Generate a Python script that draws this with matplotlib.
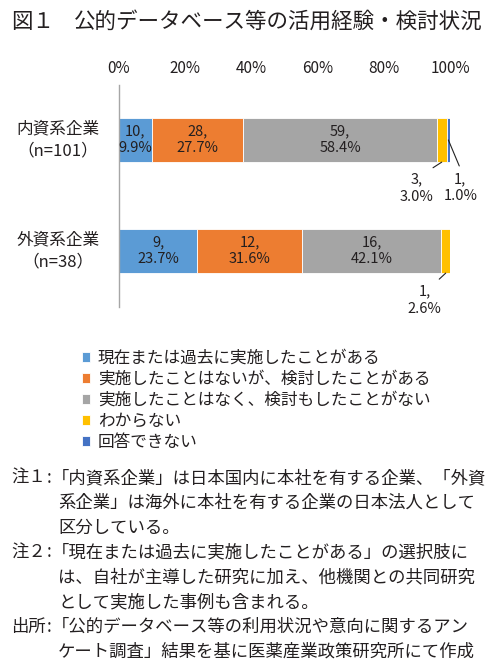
import matplotlib
matplotlib.use("Agg")
import matplotlib.pyplot as plt
import matplotlib.transforms as mtransforms
import numpy as np

plt.rcParams['font.family'] = ['Noto Sans CJK JP', 'DejaVu Sans']

# ---- data ----
categories = ["内資系企業\n（n=101）", "外資系企業\n（n=38）"]
series_names = ["現在または過去に実施したことがある",
                "実施したことはないが、検討したことがある",
                "実施したことはなく、検討もしたことがない",
                "わからない",
                "回答できない"]
counts = [[10, 28, 59, 3, 1],
          [9, 12, 16, 1, 0]]
percents = [[9.9, 27.7, 58.4, 3.0, 1.0],
            [23.7, 31.6, 42.1, 2.6, 0.0]]
colors = ["#5B9BD5", "#ED7D31", "#A5A5A5", "#FFC000", "#4472C4"]
xticks = [0, 20, 40, 60, 80, 100]
xticklabels = ["0%", "20%", "40%", "60%", "80%", "100%"]

title_num = "図１"
title = "公的データベース等の活用経験・検討状況"
notes = [
    ("注１", ["「内資系企業」は日本国内に本社を有する企業、「外資",
             "系企業」は海外に本社を有する企業の日本法人として",
             "区分している。"]),
    ("注２", ["「現在または過去に実施したことがある」の選択肢に",
             "は、自社が主導した研究に加え、他機関との共同研究",
             "として実施した事例も含まれる。"]),
    ("出所", ["「公的データベース等の利用状況や意向に関するアン",
             "ケート調査」結果を基に医薬産業政策研究所にて作成"]),
]

TXT = "#231f20"
W, H = 500, 672
fig = plt.figure(figsize=(W / 100, H / 100), dpi=100)

def fx(px):
    return px / W

def fy(py):
    return 1 - py / H

ax = fig.add_axes([fx(119), fy(307), fx(450) - fx(119), fy(85) - fy(307)])

ypos = np.arange(len(categories))
bar_h = 0.4
segments = {}
for i in range(len(categories)):
    left = 0.0
    for j in range(len(series_names)):
        p = percents[i][j]
        if p > 0:
            ax.barh(ypos[i], p, left=left, height=bar_h, color=colors[j],
                    edgecolor="white", linewidth=0.6,
                    label=series_names[j] if i == 0 else None)
        segments[(i, j)] = (left, p)
        left += p

# inside labels
for i in range(len(categories)):
    for j in range(3):
        left, p = segments[(i, j)]
        ax.text(left + p / 2, ypos[i], f"{counts[i][j]},\n{percents[i][j]:.1f}%",
                ha="center", va="center", fontsize=10.5, color=TXT, linespacing=1.25)

# outside labels with leader lines
def outside(i, j, dx, dy, at_mid=False, relpos=(0.5, 1.0)):
    left, p = segments[(i, j)]
    yy = ypos[i] if at_mid else ypos[i] + bar_h / 2
    ax.annotate(f"{counts[i][j]},\n{percents[i][j]:.1f}%",
                xy=(left + p / 2, yy), xytext=(dx, dy), textcoords="offset pixels",
                ha="center", va="center", fontsize=10.5, color=TXT, linespacing=1.25,
                arrowprops=dict(arrowstyle="-", color="#222222", lw=0.8,
                                shrinkA=3, shrinkB=0, relpos=relpos),
                annotation_clip=False)

outside(0, 3, -25, -26, relpos=(0.75, 1.0))
outside(0, 4, 12, -48, at_mid=True, relpos=(0.55, 1.0))
outside(1, 3, -21, -27, relpos=(0.75, 1.0))

ax.set_xlim(0, 100)
ax.set_ylim(1.505, -0.495)
ax.xaxis.tick_top()
ax.set_xticks(xticks)
ax.set_xticklabels(xticklabels, fontsize=11, color=TXT)
ax.tick_params(axis="x", length=0, pad=6)
ax.set_yticks([])
for s in ["top", "right", "bottom"]:
    ax.spines[s].set_visible(False)
ax.spines["left"].set_color("#A6A6A6")
ax.spines["left"].set_linewidth(1.0)

trans = mtransforms.blended_transform_factory(fig.transFigure, ax.transData)
for i, c in enumerate(categories):
    ax.text(fx(58), ypos[i], c, transform=trans, ha="center", va="center",
            fontsize=12, color=TXT, linespacing=1.45, multialignment="center")

# legend
handles, labels = ax.get_legend_handles_labels()
fig.legend(handles, labels, loc="upper left", bbox_to_anchor=(fx(82), fy(350)),
           frameon=False, fontsize=12, handlelength=0.5, handleheight=0.5,
           handletextpad=0.45, labelspacing=0.24, borderpad=0, borderaxespad=0,
           labelcolor=TXT)

# title
fig.text(fx(11), fy(22), title_num, fontsize=15.5, color=TXT, va="center", ha="left")
fig.text(fx(74), fy(22), title, fontsize=15.5, color=TXT, va="center", ha="left")

# notes
row_y = 478
step = 24.8
for head, lines in notes:
    fig.text(fx(11), fy(row_y), head, fontsize=12.5, color=TXT, va="center", ha="left")
    fig.text(fx(49.5), fy(row_y), ":", fontsize=12.5, color=TXT, va="center", ha="center")
    for k, line in enumerate(lines):
        x0 = 52 if line.startswith("「") else 58
        fig.text(fx(x0), fy(row_y), line, fontsize=12.5, color=TXT, va="center", ha="left")
        row_y += step

fig.savefig("out.png", dpi=100)
